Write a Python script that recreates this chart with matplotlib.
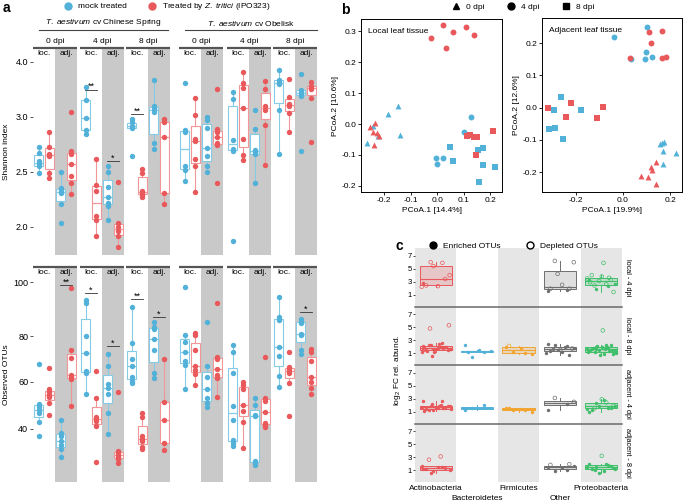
import numpy as np
import matplotlib
matplotlib.use("Agg")
import matplotlib.pyplot as plt
from matplotlib.lines import Line2D
from matplotlib.colors import to_rgba
from matplotlib.ticker import FormatStrFormatter

plt.rcParams['font.family'] = ['Liberation Sans', 'DejaVu Sans']
plt.rcParams['mathtext.fontset'] = 'custom'
plt.rcParams['mathtext.rm'] = 'Liberation Sans'
plt.rcParams['mathtext.it'] = 'Liberation Sans:italic'
plt.rcParams['font.size'] = 6

# ---------------- panel a data ----------------
# group order: Chinese Spring 0/4/8 dpi (loc, adj), then Obelisk 0/4/8 dpi (loc, adj)
dpi_labels = ['0 dpi', '4 dpi', '8 dpi', '0 dpi', '4 dpi', '8 dpi']
tissues = ['loc.', 'adj.']

shannon_mock = [
    [2.73, 2.67, 2.60, 2.57, 2.55, 2.49],
    [2.50, 2.35, 2.33, 2.31, 2.21, 2.04],
    [3.55, 3.30, 2.99, 2.88, 2.84],
    [2.55, 2.50, 2.36, 2.27, 2.22, 2.19, 2.06],
    [2.98, 2.95, 2.92, 2.91, 2.90, 2.64],
    [3.67, 3.20, 3.14, 3.09, 2.76, 2.71],
    [3.62, 2.88, 2.86, 2.55, 2.52, 2.42],
    [3.00, 2.97, 2.90, 2.72, 2.64, 2.55, 2.50],
    [3.45, 3.33, 2.79, 2.71, 2.69, 1.87],
    [3.13, 2.89, 2.70, 2.68, 2.66, 2.40],
    [3.85, 3.67, 3.64, 3.60, 3.13, 2.66],
    [3.78, 3.49, 3.45, 3.42, 3.38, 2.69],
]
shannon_treated = [
    [2.86, 2.73, 2.66, 2.64, 2.49, 2.44],
    [3.09, 2.69, 2.66, 2.57, 2.46, 2.40, 2.30],
    [2.62, 2.38, 2.33, 2.10, 2.06, 1.92],
    [2.41, 2.04, 2.00, 1.96, 1.92, 1.82],
    [2.53, 2.49, 2.33, 2.31, 2.29, 2.27],
    [2.98, 2.95, 2.82, 2.31, 2.21],
    [3.35, 3.03, 2.80, 2.78, 2.62, 2.55, 2.32],
    [3.51, 2.89, 2.86, 2.82, 2.76, 2.74, 2.40],
    [3.82, 3.62, 3.53, 3.16, 2.80, 2.65, 2.61],
    [3.65, 3.51, 3.20, 3.13, 2.93, 2.56],
    [3.69, 3.36, 3.24, 3.20, 3.07, 2.86],
    [3.64, 3.56, 3.53, 3.51, 3.35, 2.77],
]
otus_mock = [
    [67.8, 50.6, 49.4, 48.0, 46.8, 43.0, 37.0],
    [43.8, 38.3, 37.0, 35.0, 33.2, 31.5, 28.1],
    [93.3, 92.4, 80.0, 72.6, 64.8, 63.9, 54.9],
    [72.2, 67.0, 59.1, 57.4, 54.9, 46.8, 37.9],
    [90.7, 77.0, 70.0, 67.0, 62.0, 60.4, 59.6],
    [85.2, 83.5, 82.6, 78.7, 73.9, 63.9, 61.7],
    [98.1, 80.4, 77.4, 73.0, 69.1, 67.4, 57.0],
    [85.2, 67.0, 62.0, 57.0, 53.0, 51.1, 49.4],
    [76.1, 73.0, 64.0, 49.8, 43.8, 35.3, 34.0, 32.8],
    [53.2, 50.0, 46.0, 45.5, 26.5, 25.5, 24.7],
    [94.4, 87.0, 86.0, 75.2, 71.3, 62.6, 57.9],
    [86.3, 85.5, 84.8, 80.7, 80.4, 74.0, 72.2],
]
otus_treated = [
    [66.1, 57.0, 55.7, 54.5, 53.5, 51.1, 46.0],
    [97.8, 73.9, 70.5, 63.0, 62.2, 61.3, 49.8],
    [64.8, 53.2, 45.1, 44.3, 43.4, 41.2, 25.9],
    [55.7, 30.4, 29.8, 28.9, 28.0, 27.0, 25.5],
    [46.8, 45.2, 37.0, 35.6, 34.8, 32.3, 31.5],
    [70.0, 51.5, 43.8, 34.0, 31.1],
    [81.0, 80.4, 73.9, 67.0, 65.2, 63.5, 58.7],
    [92.2, 70.9, 70.0, 65.7, 63.0, 61.7, 53.6],
    [60.0, 58.7, 57.0, 50.2, 47.7, 43.0, 31.9],
    [70.9, 53.2, 52.0, 47.2, 42.6, 41.7, 41.0],
    [73.0, 66.5, 65.7, 65.0, 64.0, 59.6, 45.5],
    [74.3, 73.0, 69.0, 62.2, 60.0, 57.4, 54.9],
]
# (group index, label, height of bracket)
sig_shannon = [(2, '**', 3.49), (3, '*', 2.60), (4, '**', 3.05)]
sig_otus = [(1, '**', 98.9), (2, '*', 95.9), (3, '*', 75.7), (4, '**', 93.7),
            (5, '*', 87.0), (11, '*', 88.9)]

# ---------------- panel b data ----------------
# treat: 0 = mock, 1 = Z. tritici ; dpi: 0, 4, 8
local_pc1 = [0.023, -0.023, 0.034, 0.060, 0.109, 0.140,
             -0.004, 0.023, 0.000, 0.128, 0.102,
             -0.185, -0.147, -0.264, -0.242, -0.140, -0.223,
             -0.253, -0.234, -0.242, -0.226, -0.219, -0.238,
             0.113, 0.125, 0.140, 0.151, 0.147, 0.210,
             0.060, 0.155, 0.174, 0.174, 0.219, 0.158, 0.050]
local_pc2 = [0.320, 0.277, 0.245, 0.297, 0.313, 0.287,
             -0.110, -0.110, -0.129, 0.023, -0.026,
             0.032, 0.058, -0.061, -0.006, -0.035, -0.039,
             -0.010, 0.003, -0.026, -0.029, -0.039, -0.068,
             -0.039, -0.035, -0.042, -0.042, -0.100, -0.022,
             -0.119, -0.084, -0.077, -0.132, -0.139, -0.187, -0.074]
local_treat = [1] * 6 + [0] * 5 + [0] * 6 + [1] * 6 + [1] * 6 + [0] * 7
local_dpi = [4] * 11 + [0] * 12 + [8] * 13

adj_pc1 = [0.102, -0.038, 0.034, 0.094, 0.098, 0.123,
           0.111, 0.166, 0.119, 0.030, 0.166, 0.183,
           -0.319, -0.221, -0.243, -0.111, -0.085,
           -0.264, -0.294, -0.179, -0.315, -0.289, -0.255,
           0.166, 0.174, 0.170, 0.226, 0.170, 0.157,
           0.140, 0.119, 0.123, 0.077, 0.106, 0.140]
adj_pc2 = [0.250, 0.219, 0.150, 0.150, 0.172, 0.157,
           0.234, 0.238, 0.200, 0.153, 0.153, 0.157,
           0.000, 0.013, -0.028, -0.031, 0.003,
           0.034, -0.009, -0.009, -0.066, -0.062, -0.097,
           -0.109, -0.106, -0.134, -0.141, -0.175, -0.112,
           -0.169, -0.184, -0.194, -0.213, -0.216, -0.238]
adj_treat = [0] * 6 + [1] * 6 + [1] * 5 + [0] * 6 + [0] * 6 + [1] * 6
adj_dpi = [4] * 12 + [8] * 11 + [0] * 12

# ---------------- panel c data ----------------
phyla = ['Actinobacteria', 'Bacteroidetes', 'Firmicutes', 'Other', 'Proteobacteria']
c_rows = ['local - 4 dpi', 'local - 8 dpi', 'adjacent - 4 dpi', 'adjacent - 8 dpi']
enriched_local4 = [[2.8], [], [], [1.5, 1.7], [3.2, 2.3, 1.9, 2.7]]
depleted_local4 = [[5.9, 6.0, 4.0, 2.3, 2.4, 3.4, 5.4, 2.2], [], [],
                   [6.2, 6.0, 2.5, 1.9, 1.9, 4.2],
                   [5.9, 4.0, 3.3, 3.1, 3.5, 2.6, 2.4, 1.4, 3.8, 2.9, 3.6]]
enriched_local8 = [[2.1, 1.9, 2.3, 1.6, 1.8, 1.5, 2.0, 1.7, 1.2, 1.9, 2.2, 1.4, 1.6, 2.0,
                    1.8, 0.5, 1.7, 2.4, 1.3, 1.9, 1.1, 1.5, 2.6],
                   [2.3, 1.1, 0.4, 1.3, 1.4, 1.2],
                   [2.0, 1.0, 1.1, 0.8, 1.8],
                   [2.4, 2.1, 2.2, 1.8, 1.2, 1.3, 0.7, 1.5, 1.0, 2.0, 1.6],
                   [1.5, 1.8, 2.0, 1.2, 0.9, 1.6, 2.2, 1.4, 1.7, 2.3, 1.1, 0.8, 1.9, 1.5,
                    1.3, 2.1, 1.0, 1.6, 1.8, 1.4, 0.7, 1.2, 2.0, 1.7, 1.5]]
depleted_local8 = [[4.8, 5.3], [], [2.1], [1.7, 1.5], [4.5]]
enriched_adj4 = [[2.7, 2.6, 1.8, 1.9, 1.5, 1.4, 1.6, 1.2, 1.7, 2.0, 1.3, 1.8, 1.5, 1.1,
                  1.6, 2.2, 1.4, 1.9],
                 [1.2, 2.0, 1.5],
                 [1.6, 1.3, 1.2, 0.9, 1.4, 1.5],
                 [1.3, 2.2],
                 [1.0, 1.6, 2.3, 1.8, 2.8, 1.2, 1.5, 1.9, 1.4]]
depleted_adj4 = [[], [], [], [3.1, 2.5], [2.4, 1.5, 1.9, 2.9]]
enriched_adj8 = [[1.2, 1.5, 0.6, 1.0, 1.4, 1.1, 1.3, 0.9, 1.6], [], [],
                 [1.5, 1.0, 0.9, 1.6, 1.3],
                 [2.0, 1.8, 1.5, 1.2, 0.8, 1.1, 1.6, 0.5, 1.4, 1.9, 1.0, 1.3]]
depleted_adj8 = [[3.1, 2.6], [], [], [1.8, 1.9], [3.2]]

BLUE, RED = '#52B1D8', '#E9585B'
BLUE_L, RED_L = '#86CBE6', '#F29698'
GREY = '#C9C9C9'
phylum_colors = ['#E9585B', '#52B1D8', '#F2A530', '#6F6F6F', '#3FBF6A']

W, H = 683, 501
fig = plt.figure(figsize=(W / 100, H / 100), dpi=100)


def px_axes(x0, y0, x1, y1):
    return fig.add_axes([x0 / W, 1 - y1 / H, (x1 - x0) / W, (y1 - y0) / H])


def fig_text(x, y, s, **kw):
    fig.text(x / W, 1 - y / H, s, **kw)


def fig_line(x0, x1, y, **kw):
    fig.add_artist(Line2D([x0 / W, x1 / W], [1 - y / H, 1 - y / H],
                          transform=fig.transFigure, **kw))


# ================= panel a =================
panel_x = [(33, 77), (80, 124), (126, 170), (179, 223), (227, 271), (273, 317)]
rows_a = [
    dict(mock=shannon_mock, trt=shannon_treated, sig=sig_shannon, y0=48, y1=255,
         kv=[0, 2.0, 2.5, 3.0, 4.0, 6.0], ks=[-4, 0, 1, 2, 3, 5], ylim=(1.745, 4.25),
         ticks=[2.0, 2.5, 3.0, 4.0], fmt='%.1f', ylabel='Shannon index'),
    dict(mock=otus_mock, trt=otus_treated, sig=sig_otus, y0=267, y1=482,
         kv=[0, 40, 60, 80, 100, 140], ks=[-94, 0, 47, 93, 147, 255], ylim=(17.4, 105.6),
         ticks=[40, 60, 80, 100], fmt='%d', ylabel='Observed OTUs'),
]

for r, row in enumerate(rows_a):
    fwd = lambda v, kv=row['kv'], ks=row['ks']: np.interp(v, kv, ks)
    inv = lambda s, kv=row['kv'], ks=row['ks']: np.interp(s, ks, kv)
    for p, (x0, x1) in enumerate(panel_x):
        ax = px_axes(x0, row['y0'], x1, row['y1'])
        ax.set_yscale('function', functions=(fwd, inv))
        ax.axvspan(1.5, 2.5, color=GREY, lw=0, zorder=0)
        for t in range(2):
            g = p * 2 + t
            for vals, off, c, cl in [(row['mock'][g], -0.24, BLUE, BLUE_L),
                                     (row['trt'][g], 0.24, RED, RED_L)]:
                pos = t + 1 + off
                ax.boxplot([vals], positions=[pos], widths=0.42, showfliers=False,
                           showcaps=False, patch_artist=True,
                           boxprops=dict(facecolor='white', edgecolor=cl, lw=0.8),
                           medianprops=dict(color=cl, lw=0.9),
                           whiskerprops=dict(color=cl, lw=0.8))
                ax.scatter(np.full(len(vals), pos), vals, s=15, color=c, lw=0, zorder=3)
        for g, lab, yv in row['sig']:
            if g // 2 == p:
                cx = g % 2 + 1
                ax.plot([cx - 0.27, cx + 0.27], [yv, yv], color='#333333', lw=0.6)
                ax.annotate(lab, xy=(cx, yv), xytext=(0, -1), textcoords='offset points',
                            ha='center', va='bottom', fontsize=6.5)
        ax.set_xlim(0.5, 2.5)
        ax.set_ylim(*row['ylim'])
        ax.set_xticks([])
        for s in ax.spines.values():
            s.set_visible(False)
        ax.plot([0, 1], [1, 1], transform=ax.transAxes, color='#555555', lw=1.6,
                clip_on=False, solid_capstyle='butt')
        for t, lab in enumerate(tissues):
            ax.annotate(lab, xy=(t + 1, 1), xycoords=('data', 'axes fraction'),
                        xytext=(0, -1.5), textcoords='offset points', ha='center',
                        va='top', fontsize=6)
        if r == 0:
            ax.annotate(dpi_labels[p], xy=(0.5, 1), xycoords='axes fraction',
                        xytext=(0, 2.5), textcoords='offset points', ha='center',
                        va='bottom', fontsize=6)
        if p == 0:
            ax.set_yticks(row['ticks'])
            ax.yaxis.set_major_formatter(FormatStrFormatter(row['fmt']))
            ax.yaxis.set_minor_locator(matplotlib.ticker.NullLocator())
            ax.tick_params(axis='y', length=2, width=0.6, pad=1.5, labelsize=6.5,
                           color='#333333')
        else:
            ax.set_yticks([])
            ax.yaxis.set_minor_locator(matplotlib.ticker.NullLocator())
    fig_text(7, (row['y0'] + row['y1']) / 2, row['ylabel'], rotation=90,
             ha='center', va='center', fontsize=6)

fig_text(103, 23, r'$\it{T.\ aestivum}$ cv Chinese Spring', ha='center', va='center', fontsize=6)
fig_text(251, 23, r'$\it{T.\ aestivum}$ cv Obelisk', ha='center', va='center', fontsize=6)
fig_line(39, 168, 29.5, color='#444444', lw=0.8)
fig_line(185, 317, 29.5, color='#444444', lw=0.8)

leg_a = [Line2D([], [], marker='o', ls='', color=BLUE, ms=5),
         Line2D([], [], marker='o', ls='', color=RED, ms=5)]
fig.legend(leg_a, ['mock treated', r'Treated by $\it{Z.\ tritici}$ (IPO323)'],
           loc='center', bbox_to_anchor=(165 / W, 1 - 7 / H), ncol=2, frameon=False,
           fontsize=6, handletextpad=0.2, columnspacing=2.0, borderpad=0)
fig_text(3, 8, 'a', fontsize=10, fontweight='bold', ha='left', va='center')

# ================= panel b =================
dpi_marker = {0: '^', 4: 'o', 8: 's'}


def pcoa(ax, pc1, pc2, treat, dpi, title):
    pc1, pc2 = np.array(pc1), np.array(pc2)
    treat, dpi = np.array(treat), np.array(dpi)
    for d, m in dpi_marker.items():
        for tr, c in [(0, BLUE), (1, RED)]:
            sel = (dpi == d) & (treat == tr)
            ax.scatter(pc1[sel], pc2[sel], marker=m, color=c, s=18, lw=0, zorder=3)
    ax.text(0.05, 0.95, title, transform=ax.transAxes, ha='left', va='top', fontsize=6)
    for s in ax.spines.values():
        s.set_linewidth(0.7)
    ax.tick_params(length=2, width=0.6, labelsize=6, pad=1.5)
    ax.xaxis.set_major_formatter(FormatStrFormatter('%.1f'))
    ax.yaxis.set_major_formatter(FormatStrFormatter('%.1f'))


axl = px_axes(361, 19, 502, 192)
pcoa(axl, local_pc1, local_pc2, local_treat, local_dpi, 'Local leaf tissue')
axl.set_xlim(-0.287, 0.245)
axl.set_ylim(-0.22, 0.34)
axl.set_xticks([-0.2, -0.1, 0.0, 0.1, 0.2])
axl.set_yticks([-0.2, -0.1, 0.0, 0.1, 0.2, 0.3])
axl.set_xlabel('PCoA.1 [14.4%]', fontsize=6, labelpad=2)
axl.set_ylabel('PCoA.2 [10.6%]', fontsize=6, labelpad=2)

axr = px_axes(542, 18, 682, 192)
pcoa(axr, adj_pc1, adj_pc2, adj_treat, adj_dpi, 'Adjacent leaf tissue')
axr.set_xlim(-0.345, 0.251)
axr.set_ylim(-0.262, 0.278)
axr.set_xticks([-0.2, 0.0, 0.2])
axr.set_yticks([-0.2, -0.1, 0.0, 0.1, 0.2])
axr.set_xlabel('PCoA.1 [19.9%]', fontsize=6, labelpad=2)
axr.set_ylabel('PCoA.2 [12.6%]', fontsize=6, labelpad=2)

leg_b = [Line2D([], [], marker=m, ls='', color='black', ms=5) for m in ['^', 'o', 's']]
fig.legend(leg_b, ['0 dpi', '4 dpi', '8 dpi'], loc='center',
           bbox_to_anchor=(521 / W, 1 - 7 / H), ncol=3, frameon=False, fontsize=6,
           handletextpad=0.2, columnspacing=2.2, borderpad=0)
fig_text(341, 10, 'b', fontsize=10, fontweight='bold', ha='left', va='center')

# ================= panel c =================
enriched = [enriched_local4, enriched_local8, enriched_adj4, enriched_adj8]
depleted = [depleted_local4, depleted_local8, depleted_adj4, depleted_adj8]
row_h = (482 - 248) / 4
for r, lab in enumerate(c_rows):
    ax = px_axes(415, 248 + r * row_h, 622, 248 + (r + 1) * row_h)
    for k in [1, 3, 5]:
        ax.axvspan(k - 0.5, k + 0.5, color='#E6E6E6', lw=0, zorder=0)
    for k, col in enumerate(phylum_colors):
        en, de = enriched[r][k], depleted[r][k]
        vals = en + de
        if not vals:
            continue
        ax.boxplot([vals], positions=[k + 1], widths=0.78, showfliers=False,
                   showcaps=False, patch_artist=True,
                   boxprops=dict(facecolor=to_rgba(col, 0.22), edgecolor=col, lw=0.7),
                   medianprops=dict(color=col, lw=0.8),
                   whiskerprops=dict(color=col, lw=0.7))
        n = len(vals)
        offs = ((np.arange(n) * 0.618 + 0.1) % 1 - 0.5) * 0.74
        ax.scatter(k + 1 + offs[:len(en)], en, s=6, color=col, lw=0, zorder=3)
        ax.scatter(k + 1 + offs[len(en):], de, s=7, facecolors='none', edgecolors=col,
                   lw=0.5, zorder=3)
    ax.set_xlim(0.5, 5.5)
    ax.set_ylim(-0.85, 8.2)
    ax.set_yticks([1, 3, 5, 7])
    ax.tick_params(axis='y', length=1.5, width=0.5, labelsize=5.5, pad=1)
    for s in ax.spines.values():
        s.set_visible(False)
    if r > 0:
        ax.plot([0, 1], [1, 1], transform=ax.transAxes, color='#6A6A6A', lw=1.1,
                clip_on=False, zorder=5)
    ax.text(1.012, 0.5, lab, transform=ax.transAxes, rotation=-90, ha='left',
            va='center', fontsize=5.3)
    ax.set_xticks([])
    if r == 3:
        for k, name in enumerate(phyla):
            ax.annotate(name, xy=(k + 1, 0), xycoords=('data', 'axes fraction'),
                        xytext=(0, -2 if k % 2 == 0 else -9.5),
                        textcoords='offset points', ha='center', va='top', fontsize=6)

fig_text(397, 370, r'log$_2$ FC rel. abund.', rotation=90, ha='center', va='center',
         fontsize=6)
leg_c = [Line2D([], [], marker='o', ls='', color='black', ms=5),
         Line2D([], [], marker='o', ls='', markerfacecolor='none',
                markeredgecolor='black', markeredgewidth=1.0, ms=5)]
fig.legend(leg_c, ['Enriched OTUs', 'Depleted OTUs'], loc='center',
           bbox_to_anchor=(511 / W, 1 - 246 / H), ncol=2, frameon=False, fontsize=6,
           handletextpad=0.2, columnspacing=2.5, borderpad=0)
fig_text(396, 246, 'c', fontsize=10, fontweight='bold', ha='left', va='center')

fig.savefig('out.png', dpi=100)
